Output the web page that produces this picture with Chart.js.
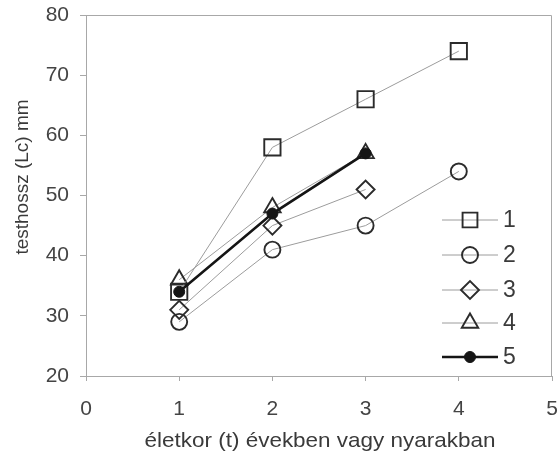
<!DOCTYPE html>
<html>
<head>
<meta charset="utf-8">
<script src="https://cdn.jsdelivr.net/npm/chart.js@4/dist/chart.umd.min.js"></script>
<style>
  html, body { margin: 0; padding: 0; background: #fff; }
  #wrap { width: 559px; height: 463px; }
</style>
</head>
<body>
<div id="wrap"><canvas id="c" width="559" height="463"></canvas></div>
<script>
// Testhossz (Lc, mm) az életkor függvényében, öt csoport
const ages = [1, 2, 3, 4];
const series1 = [34, 58, 66, 74];
const series2 = [29, 41, 45, 54];
const series3 = [31, 45, 51];
const series4 = [36, 48, 57];
const series5 = [34, 47, 57];
const seriesNames = ['1', '2', '3', '4', '5'];
const xTicks = [0, 1, 2, 3, 4, 5];
const yTicks = [20, 30, 40, 50, 60, 70, 80];
const xTitle = 'életkor (t) években vagy nyarakban';
const yTitle = 'testhossz (Lc) mm';

const FONT = "'Liberation Sans', Arial, sans-serif";
const INK = '#2b2b2b';
const THIN = '#9c9c9c';

function points(values) {
  return values.map((v, i) => ({ x: ages[i], y: v }));
}

const styles = [
  { pointStyle: 'rect',     pointRadius: 11.5, borderColor: THIN, borderWidth: 1,   pointBackgroundColor: 'rgba(0,0,0,0)', pointBorderColor: INK, pointBorderWidth: 1.9, order: 1 },
  { pointStyle: 'circle',   pointRadius: 8,    borderColor: THIN, borderWidth: 1,   pointBackgroundColor: 'rgba(0,0,0,0)', pointBorderColor: INK, pointBorderWidth: 1.9, order: 1 },
  { pointStyle: 'rectRot',  pointRadius: 9,    borderColor: THIN, borderWidth: 1,   pointBackgroundColor: 'rgba(0,0,0,0)', pointBorderColor: INK, pointBorderWidth: 1.9, order: 1 },
  { pointStyle: 'triangle', pointRadius: 9.5,  borderColor: THIN, borderWidth: 1,   pointBackgroundColor: 'rgba(0,0,0,0)', pointBorderColor: INK, pointBorderWidth: 1.9, order: 1 },
  { pointStyle: 'circle',   pointRadius: 5.5,  borderColor: '#151515', borderWidth: 2.6, pointBackgroundColor: '#151515', pointBorderColor: '#151515', pointBorderWidth: 1, order: 0 }
];

const allSeries = [series1, series2, series3, series4, series5];
const datasets = allSeries.map((vals, i) => Object.assign({
  label: seriesNames[i],
  data: points(vals),
  fill: false,
  tension: 0,
  clip: false,
  pointHoverRadius: styles[i].pointRadius
}, styles[i]));

// Frame around the plot area
const framePlugin = {
  id: 'frame',
  beforeDatasetsDraw(chart) {
    const { ctx, chartArea: a } = chart;
    ctx.save();
    ctx.strokeStyle = '#a8a8a8';
    ctx.lineWidth = 1;
    ctx.beginPath();
    ctx.moveTo(a.left, a.top + 0.5);
    ctx.lineTo(a.right - 0.5, a.top + 0.5);
    ctx.lineTo(a.right - 0.5, a.bottom);
    ctx.stroke();
    ctx.restore();
  }
};

// Axis titles
const titlesPlugin = {
  id: 'titles',
  afterDraw(chart) {
    const { ctx } = chart;
    ctx.save();
    ctx.fillStyle = '#3a3a3a';
    ctx.textAlign = 'center';
    ctx.textBaseline = 'middle';
    ctx.font = '21px ' + FONT;
    ctx.save();
    ctx.translate(320, 441);
    ctx.scale(1.07, 1);
    ctx.fillText(xTitle, 0, 0);
    ctx.restore();
    ctx.translate(23, 177);
    ctx.rotate(-Math.PI / 2);
    ctx.font = '19px ' + FONT;
    ctx.fillText(yTitle, 0, 0);
    ctx.restore();
  }
};

// Legend inside the plot, lower right
const legendPlugin = {
  id: 'insideLegend',
  afterDraw(chart) {
    const { ctx } = chart;
    const x0 = 442, x1 = 498, xm = 470, xt = 503;
    const rows = [220, 255, 290, 323, 357];
    ctx.save();
    chart.data.datasets.forEach((ds, i) => {
      const y = rows[i];
      ctx.strokeStyle = ds.borderColor;
      ctx.lineWidth = ds.borderWidth;
      ctx.beginPath();
      ctx.moveTo(x0, y);
      ctx.lineTo(x1, y);
      ctx.stroke();
      ctx.strokeStyle = ds.pointBorderColor;
      ctx.fillStyle = ds.pointBackgroundColor;
      ctx.lineWidth = ds.pointBorderWidth;
      Chart.helpers.drawPoint(ctx, {
        pointStyle: ds.pointStyle,
        radius: i === 0 ? 10.5 : ds.pointRadius,
        rotation: 0,
        borderWidth: ds.pointBorderWidth
      }, xm, y);
      ctx.fillStyle = '#3a3a3a';
      ctx.font = '23px ' + FONT;
      ctx.textAlign = 'left';
      ctx.textBaseline = 'middle';
      ctx.fillText(ds.label, xt, y + 1);
    });
    ctx.restore();
  }
};

new Chart(document.getElementById('c'), {
  type: 'line',
  data: { datasets },
  options: {
    responsive: false,
    animation: false,
    events: [],
    layout: { autoPadding: false, padding: { top: 15, right: 7, left: 0, bottom: 0 } },
    plugins: {
      legend: { display: false },
      tooltip: { enabled: false },
      title: { display: false }
    },
    scales: {
      x: {
        type: 'linear',
        min: xTicks[0],
        max: xTicks[xTicks.length - 1],
        afterBuildTicks(scale) { scale.ticks = xTicks.map(v => ({ value: v })); },
        afterFit(scale) {
          scale.height = 87;
          scale.paddingLeft = 0;
          scale.paddingRight = 0;
        },
        ticks: { color: '#444', font: { family: FONT, size: 21 }, padding: 16 },
        grid: { display: true, drawOnChartArea: false, tickLength: 5, color: '#a8a8a8', lineWidth: 1 },
        border: { display: true, color: '#a8a8a8', width: 1 }
      },
      y: {
        type: 'linear',
        min: yTicks[0],
        max: yTicks[yTicks.length - 1],
        afterBuildTicks(scale) { scale.ticks = yTicks.map(v => ({ value: v })); },
        afterFit(scale) {
          scale.width = 86;
          scale.paddingTop = 0;
          scale.paddingBottom = 0;
        },
        ticks: { color: '#444', font: { family: FONT, size: 21 }, padding: 11 },
        grid: { display: true, drawOnChartArea: false, tickLength: 6, color: '#a8a8a8', lineWidth: 1 },
        border: { display: true, color: '#a8a8a8', width: 1 }
      }
    }
  },
  plugins: [framePlugin, titlesPlugin, legendPlugin]
});
</script>
</body>
</html>
